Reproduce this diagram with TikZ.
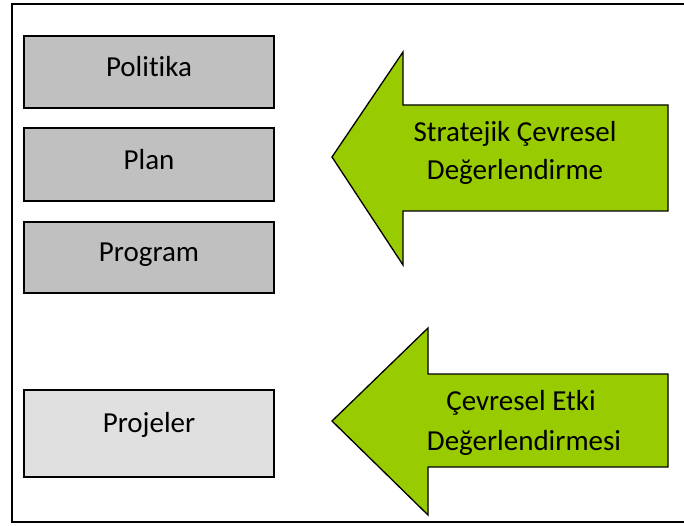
\documentclass[tikz,border=0pt]{standalone}
\usepackage{fontspec}
\setmainfont{Carlito}[Ligatures={NoCommon}]
\definecolor{boxgray}{HTML}{C0C0C0}
\definecolor{lightgray2}{HTML}{E0E0E0}
\definecolor{arrowgreen}{HTML}{99CC00}
\begin{document}
\begin{tikzpicture}[x=1pt,y=1pt,
  box/.style={draw=black, line width=1.5pt},
  bigarrow/.style={draw=black, line width=1.3pt, fill=arrowgreen, line join=miter},
  lbl/.style={font=\fontsize{29}{38}\selectfont, text=black, anchor=base, inner sep=0pt}
]
\useasboundingbox (0,0) rectangle (684,525);
\clip (0,0) rectangle (684,525);
% outer frame (right edge lies outside the picture)
\draw[line width=2pt] (12,521) -- (700,521) -- (700,3) -- (12,3) -- cycle;
% boxes
\draw[box, fill=boxgray] (24,489) rectangle (274,417);
\draw[box, fill=boxgray] (24,397) rectangle (274,324);
\draw[box, fill=boxgray] (24,303) rectangle (274,232);
\draw[box, fill=lightgray2] (24,135) rectangle (274,48);
\node[lbl] (politika) at (149,448) {Politika};
\node[lbl] (plan) at (149,355) {Plan};
\node[lbl] (program) at (149,263) {Program};
\node[lbl] (projeler) at (149,93) {Projeler};
% arrow 1
\draw[bigarrow] (332,368) -- (403,473) -- (403,420) -- (668,420) -- (668,314) -- (403,314) -- (403,260) -- cycle;
\node[lbl] (sced1) at (515,383) {Stratejik Çevresel};
\node[lbl] (sced2) at (515,345) {Değerlendirme};
% arrow 2
\draw[bigarrow] (332,104) -- (428,197) -- (428,151) -- (668,151) -- (668,58) -- (428,58) -- (428,10) -- cycle;
\node[lbl] (ced1) at (521,115) {Çevresel Etki};
\node[lbl] (ced2) at (524,75) {Değerlendirmesi};
\end{tikzpicture}
\end{document}
